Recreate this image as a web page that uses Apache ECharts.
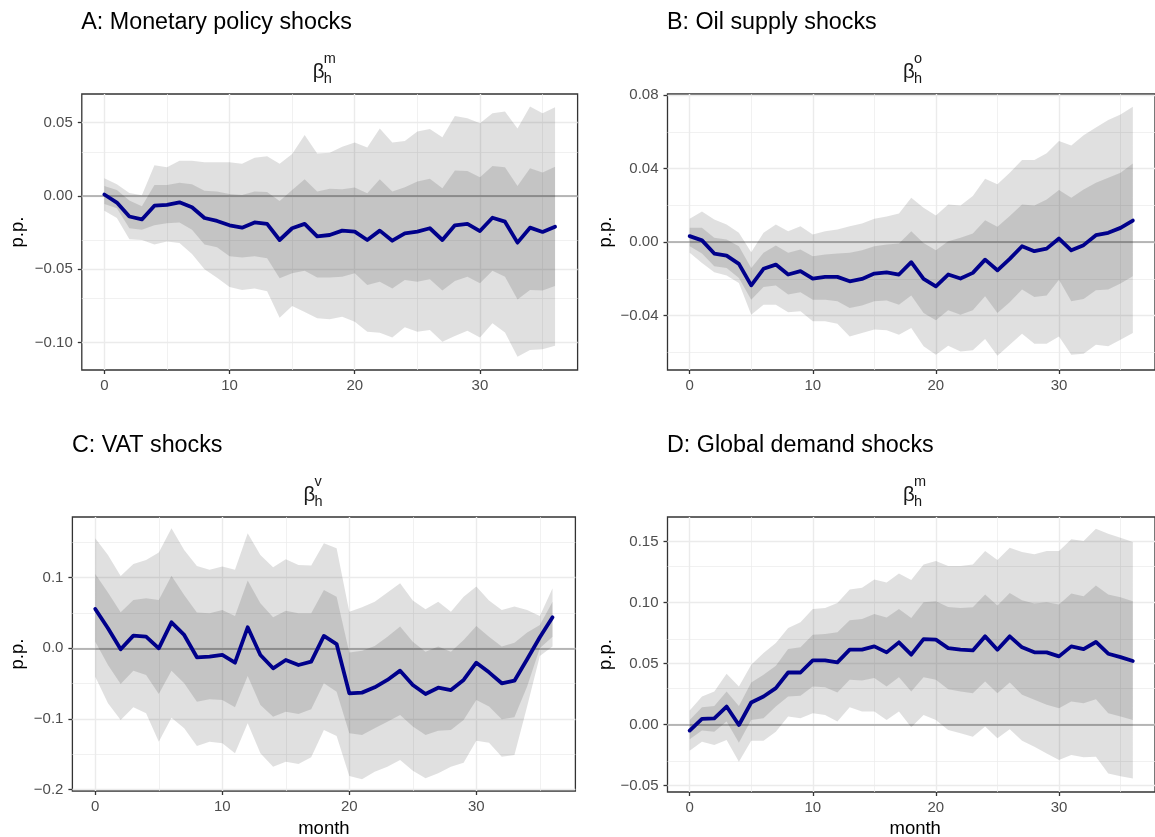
<!DOCTYPE html>
<html><head><meta charset="utf-8">
<script src="https://cdn.jsdelivr.net/npm/echarts@6/dist/echarts.min.js"></script>
<style>html,body{margin:0;padding:0;background:#fff}#c{width:1155px;height:837px}</style>
</head><body><div id="c"></div>
<script>
// ---------- data ----------
const months = [0,1,2,3,4,5,6,7,8,9,10,11,12,13,14,15,16,17,18,19,20,21,22,23,24,25,26,27,28,29,30,31,32,33,34,35,36];
const xTicks = [0,10,20,30];
const xMinor = [5,15,25,35];

// A: Monetary policy shocks
const aMean = [0.001,-0.0045,-0.014,-0.016,-0.0066,-0.006,-0.0043,-0.0077,-0.015,-0.017,-0.020,-0.0216,-0.018,-0.019,-0.030,-0.022,-0.019,-0.0275,-0.0266,-0.0236,-0.0243,-0.030,-0.0236,-0.0305,-0.0255,-0.0243,-0.022,-0.030,-0.020,-0.019,-0.0239,-0.0148,-0.0175,-0.0318,-0.0216,-0.0245,-0.0209];
const aHi95 = [0.012,0.008,0.002,0.0005,0.021,0.0195,0.024,0.024,0.023,0.023,0.023,0.022,0.026,0.027,0.022,0.0286,0.0416,0.029,0.0295,0.0336,0.0364,0.033,0.046,0.0364,0.0375,0.0439,0.0457,0.040,0.0545,0.053,0.0495,0.0564,0.0575,0.046,0.061,0.0564,0.0605];
const aHi68 = [0.0068,0.004,-0.003,-0.007,0.0075,0.0075,0.009,0.008,0.0036,0.003,0.0014,0.0007,0.003,0.0027,-0.0034,0.004,0.0114,0.003,0.005,0.0045,0.0057,0.0018,0.0114,0.003,0.006,0.0098,0.0118,0.0052,0.0173,0.017,0.0127,0.0205,0.0195,0.0068,0.0189,0.016,0.020];
const aLo68 = [-0.0055,-0.0084,-0.022,-0.023,-0.020,-0.0186,-0.018,-0.023,-0.033,-0.035,-0.041,-0.042,-0.041,-0.0425,-0.056,-0.0527,-0.051,-0.0555,-0.0555,-0.055,-0.0527,-0.0607,-0.0584,-0.063,-0.0573,-0.0584,-0.0568,-0.0645,-0.058,-0.055,-0.0595,-0.051,-0.055,-0.0705,-0.064,-0.0645,-0.0614];
const aLo95 = [-0.010,-0.015,-0.0295,-0.030,-0.033,-0.031,-0.032,-0.0395,-0.050,-0.0557,-0.062,-0.064,-0.063,-0.065,-0.083,-0.075,-0.079,-0.0834,-0.084,-0.0823,-0.0857,-0.0925,-0.0932,-0.0964,-0.0895,-0.0925,-0.0914,-0.0993,-0.0955,-0.0918,-0.0964,-0.0868,-0.093,-0.1095,-0.105,-0.1045,-0.102];
const aTicks = [-0.10,-0.05,0.00,0.05];
const aMinor = [-0.075,-0.025,0.025];

// B: Oil supply shocks
const bMean = [0.0033,0.001,-0.0062,-0.0073,-0.0118,-0.0235,-0.0145,-0.0122,-0.0176,-0.0158,-0.0198,-0.0189,-0.0189,-0.0213,-0.020,-0.0171,-0.0164,-0.0176,-0.0109,-0.020,-0.024,-0.0176,-0.0198,-0.0167,-0.0095,-0.0153,-0.0091,-0.0022,-0.0049,-0.0035,0.002,-0.0044,-0.0016,0.0038,0.0051,0.0078,0.0118];
const bHi95 = [0.0127,0.0167,0.0124,0.0096,0.0051,-0.0055,0.0051,0.0096,0.006,0.0087,0.0042,0.006,0.0069,0.0087,0.0102,0.0127,0.014,0.0156,0.0242,0.0187,0.0145,0.0205,0.020,0.0251,0.0345,0.0315,0.0378,0.0447,0.0447,0.0484,0.0551,0.0527,0.0582,0.0624,0.0665,0.0696,0.0738];
const bHi68 = [0.0078,0.0078,0.0024,0.0015,-0.0022,-0.014,-0.0058,-0.0018,-0.0058,-0.004,-0.0076,-0.0067,-0.0062,-0.0058,-0.0044,-0.0022,-0.0013,-0.0007,0.006,-0.0004,-0.0044,0.0005,0.0024,0.0047,0.012,0.0084,0.0142,0.0205,0.020,0.0233,0.0284,0.0242,0.0287,0.0324,0.0351,0.0378,0.0429];
const bLo68 = [-0.0022,-0.0062,-0.0131,-0.014,-0.0195,-0.0313,-0.0244,-0.0236,-0.0285,-0.0273,-0.0313,-0.0313,-0.0322,-0.0358,-0.0345,-0.0322,-0.0318,-0.034,-0.029,-0.0385,-0.0425,-0.0371,-0.0395,-0.0371,-0.0295,-0.0385,-0.0327,-0.0258,-0.0298,-0.029,-0.0204,-0.0322,-0.0309,-0.0262,-0.0258,-0.0225,-0.0185];
const bLo95 = [-0.0058,-0.0113,-0.0164,-0.0182,-0.0222,-0.0395,-0.034,-0.034,-0.0382,-0.0376,-0.0431,-0.0431,-0.0444,-0.0513,-0.0495,-0.0476,-0.048,-0.0504,-0.0467,-0.0567,-0.0613,-0.0564,-0.0595,-0.0589,-0.0527,-0.0618,-0.0558,-0.0498,-0.0553,-0.0553,-0.0513,-0.0613,-0.0607,-0.0558,-0.0567,-0.0531,-0.0495];
const bTicks = [-0.04,0.00,0.04,0.08];
const bMinor = [-0.06,-0.02,0.02,0.06];

// C: VAT shocks
const cMean = [0.0557,0.0283,-0.0014,0.0179,0.0165,0.0,0.0368,0.0189,-0.0127,-0.0118,-0.0094,-0.0203,0.0297,-0.0094,-0.0283,-0.0165,-0.0236,-0.0189,0.0175,0.006,-0.0637,-0.0627,-0.0552,-0.0448,-0.0316,-0.0519,-0.0646,-0.0557,-0.059,-0.0448,-0.0203,-0.034,-0.0495,-0.0458,-0.0156,0.0156,0.0439];
const cHi95 = [0.1557,0.132,0.1024,0.1193,0.125,0.1354,0.1698,0.139,0.1165,0.111,0.1156,0.111,0.1627,0.132,0.1146,0.126,0.118,0.117,0.1486,0.1415,0.0519,0.058,0.066,0.0788,0.092,0.0675,0.0552,0.066,0.0519,0.0731,0.0873,0.0675,0.0542,0.059,0.0542,0.0458,0.0849];
const cHi68 = [0.1052,0.0788,0.0509,0.0684,0.0708,0.0684,0.1028,0.0755,0.0505,0.0495,0.0542,0.0458,0.0958,0.0637,0.0439,0.0533,0.0495,0.0495,0.0825,0.0731,-0.0061,-0.0033,0.0033,0.0165,0.0307,0.0094,-0.0047,0.0024,-0.0047,0.0118,0.0316,0.0165,0.0024,0.008,0.0222,0.033,0.066];
const cLo68 = [0.0094,-0.0236,-0.0505,-0.0316,-0.0377,-0.0646,-0.0316,-0.0495,-0.0755,-0.0722,-0.0731,-0.0835,-0.0392,-0.0802,-0.0967,-0.0896,-0.0929,-0.0863,-0.0495,-0.0613,-0.1203,-0.1226,-0.1132,-0.1038,-0.0943,-0.1108,-0.1226,-0.1165,-0.1156,-0.1014,-0.0731,-0.0825,-0.1005,-0.0976,-0.0542,0.0,0.0165];
const cLo95 = [-0.0401,-0.0778,-0.1014,-0.0835,-0.092,-0.1321,-0.0981,-0.1132,-0.1382,-0.1321,-0.1344,-0.1486,-0.1061,-0.1486,-0.1675,-0.1604,-0.1637,-0.1542,-0.1156,-0.1241,-0.1807,-0.1854,-0.1745,-0.1675,-0.158,-0.1731,-0.184,-0.1769,-0.1675,-0.1618,-0.1307,-0.1335,-0.1533,-0.151,-0.0825,-0.011,0.0024];
const cTicks = [-0.2,-0.1,0.0,0.1];
const cMinor = [-0.15,-0.05,0.05,0.15];

// D: Global demand shocks
const dMean = [-0.0049,0.0047,0.0052,0.0148,-0.0003,0.0181,0.023,0.0299,0.0427,0.0427,0.0526,0.0526,0.051,0.0614,0.0614,0.0641,0.0592,0.0674,0.0573,0.0701,0.0696,0.0627,0.0614,0.0608,0.0723,0.0614,0.0723,0.0633,0.0592,0.0592,0.0559,0.0641,0.0619,0.0677,0.0581,0.0553,0.0521];
const dHi95 = [0.0115,0.023,0.0271,0.0416,0.0312,0.049,0.0586,0.0668,0.0792,0.0838,0.0948,0.0956,0.0997,0.1107,0.1121,0.1189,0.1165,0.1238,0.1184,0.1312,0.134,0.1299,0.1299,0.1312,0.1422,0.1348,0.1449,0.1414,0.1395,0.1422,0.1422,0.1518,0.1504,0.1605,0.1564,0.1532,0.1496];
const dHi68 = [0.0038,0.0142,0.0153,0.0271,0.0153,0.0345,0.0408,0.0482,0.0619,0.0633,0.0737,0.0742,0.0756,0.0855,0.0866,0.0907,0.0878,0.0948,0.0874,0.1003,0.1011,0.0964,0.0956,0.0962,0.1066,0.0975,0.1079,0.1019,0.0992,0.1003,0.0984,0.1074,0.1052,0.114,0.1066,0.1044,0.1011];
const dLo68 = [-0.012,-0.0049,-0.0058,0.0025,-0.0148,0.0038,0.0052,0.0148,0.023,0.0236,0.0312,0.0307,0.0263,0.0367,0.0362,0.0381,0.0312,0.0389,0.0271,0.0389,0.0367,0.029,0.0271,0.0258,0.0353,0.0258,0.0345,0.0244,0.0203,0.0162,0.0134,0.0189,0.0175,0.0208,0.0093,0.0066,0.0038];
const dLo95 = [-0.0214,-0.014,-0.0167,-0.0126,-0.0304,-0.0132,-0.0132,-0.0058,0.0066,0.0052,0.0093,0.0079,0.0025,0.0142,0.0107,0.0107,0.0038,0.0107,-0.0022,0.0079,0.0038,-0.0044,-0.0071,-0.0099,-0.0016,-0.0112,-0.0038,-0.0132,-0.0181,-0.0236,-0.029,-0.0249,-0.0268,-0.0263,-0.04,-0.0422,-0.0441];
const dTicks = [-0.05,0.00,0.05,0.10,0.15];
const dMinor = [-0.025,0.025,0.075,0.125];

// ---------- layout / styles ----------
const FONT = '"Liberation Sans", Arial, Helvetica, sans-serif';
const panels = [
  {title:'A: Monetary policy shocks', sup:'m', mean:aMean, hi95:aHi95, hi68:aHi68, lo68:aLo68, lo95:aLo95, ticks:aTicks, minor:aMinor, dec:2,
   ymin:-0.1186, ymax:0.0695, grid:{left:81.8, top:94, width:495.8, height:276}, bottom:false},
  {title:'B: Oil supply shocks', sup:'o', mean:bMean, hi95:bHi95, hi68:bHi68, lo68:bLo68, lo95:bLo95, ticks:bTicks, minor:bMinor, dec:2,
   ymin:-0.0696, ymax:0.0807, grid:{left:667.5, top:94, width:495.4, height:276}, bottom:false},
  {title:'C: VAT shocks', sup:'v', mean:cMean, hi95:cHi95, hi68:cHi68, lo68:cLo68, lo95:cLo95, ticks:cTicks, minor:cMinor, dec:1,
   ymin:-0.2019, ymax:0.1858, grid:{left:72.4, top:517, width:503, height:274}, bottom:true},
  {title:'D: Global demand shocks', sup:'m', mean:dMean, hi95:dHi95, hi68:dHi68, lo68:dLo68, lo95:dLo95, ticks:dTicks, minor:dMinor, dec:2,
   ymin:-0.0552, ymax:0.1701, grid:{left:667.5, top:517, width:495.4, height:275}, bottom:true}
];
const XMIN = -1.8, XMAX = 37.8;

const grids = [], xAxes = [], yAxes = [], series = [], graphics = [];

function ribbon(i, lo, hi, z) {
  return {
    type:'custom', xAxisIndex:i, yAxisIndex:i, z:z, silent:true, clip:true,
    dimensions:['x','lo','hi'], encode:{x:0, y:[1,2]},
    data: months.map((m,k)=>[m, lo[k], hi[k]]),
    renderItem: function(params, api){
      if (params.dataIndex !== 0) return null;
      const pts = [];
      for (let k=0;k<months.length;k++) pts.push(api.coord([months[k], hi[k]]));
      for (let k=months.length-1;k>=0;k--) pts.push(api.coord([months[k], lo[k]]));
      return {type:'polygon', shape:{points:pts}, style:{fill:'rgba(0,0,0,0.12)'}};
    }
  };
}

function txt(str, x, y, size, color, align, rot) {
  return {type:'text', x:x, y:y, rotation:rot||0, silent:true, z:100,
    style:{text:str, fontSize:size, fontFamily:FONT, fill:color, align:align||'left', verticalAlign:'middle'}};
}

panels.forEach((p, i) => {
  grids.push(Object.assign({show:true, borderColor:'#333333', borderWidth:1.3, backgroundColor:'transparent', containLabel:false}, p.grid));
  xAxes.push({
    type:'value', gridIndex:i, min:XMIN, max:XMAX, position:'bottom',
    axisLine:{show:false, onZero:false}, splitLine:{show:false},
    axisTick:{show:true, length:4, lineStyle:{color:'#333333', width:1.3}, customValues:xTicks},
    axisLabel:{show:true, margin:8, fontSize:15, fontFamily:FONT, color:'#4d4d4d', customValues:xTicks,
      formatter:v=>String(Math.round(v))}
  });
  yAxes.push({
    type:'value', gridIndex:i, min:p.ymin, max:p.ymax, position:'left',
    axisLine:{show:false, onZero:false}, splitLine:{show:false},
    axisTick:{show:true, length:4, lineStyle:{color:'#333333', width:1.3}, customValues:p.ticks},
    axisLabel:{show:true, margin:9, fontSize:15, fontFamily:FONT, color:'#4d4d4d', customValues:p.ticks,
      formatter:v=>(v < -1e-9 ? '\u2212' : '') + Math.abs(v).toFixed(p.dec)}
  });
  const ml = [];
  xMinor.forEach(v=>ml.push({xAxis:v, lineStyle:{color:'#ebebeb', width:0.7, type:'solid'}}));
  p.minor.forEach(v=>ml.push({yAxis:v, lineStyle:{color:'#ebebeb', width:0.7, type:'solid'}}));
  xTicks.forEach(v=>ml.push({xAxis:v, lineStyle:{color:'#ebebeb', width:1.4, type:'solid'}}));
  p.ticks.forEach(v=>ml.push({yAxis:v, lineStyle:{color:'#ebebeb', width:1.4, type:'solid'}}));
  ml.push({yAxis:0, lineStyle:{color:'#a3a3a3', width:1.5, type:'solid'}});
  series.push({
    type:'line', xAxisIndex:i, yAxisIndex:i, z:1, silent:true, showSymbol:false,
    data: months.map((m,k)=>[m, p.mean[k]]), lineStyle:{opacity:0, width:0},
    markLine:{silent:true, z:1, symbol:['none','none'], label:{show:false}, animation:false, emphasis:{disabled:true}, data:ml}
  });
  series.push(ribbon(i, p.lo95, p.hi95, 6));
  series.push(ribbon(i, p.lo68, p.hi68, 7));
  series.push({
    type:'line', xAxisIndex:i, yAxisIndex:i, z:8, silent:true, showSymbol:false,
    data: months.map((m,k)=>[m, p.mean[k]]),
    lineStyle:{color:'#00008B', width:3.8, join:'round', cap:'round'}
  });

  const g = p.grid;
  const dy = g.top - 94;
  // panel title
  graphics.push(txt(p.title, g.left - 0.5, 23 + dy, 23.3, '#000000', 'left'));
  // subtitle beta_h^x
  const cx = g.left + (i % 2 === 0 ? 231 : 235.5);
  graphics.push(txt('\u03B2', cx, 72 + dy, 20.5, '#1a1a1a', 'left'));
  graphics.push(txt(p.sup, cx + 11, 59 + dy, 14.5, '#1a1a1a', 'left'));
  graphics.push(txt('h', cx + 11, 78.5 + dy, 14.5, '#1a1a1a', 'left'));
  // y axis title
  graphics.push(txt('p.p.', (i % 2 === 0 ? 17.5 : 605.5), g.top + g.height/2, 18.5, '#000000', 'center', Math.PI/2));
  if (p.bottom) {
    graphics.push(txt('month', g.left + g.width/2, 828.5, 18.5, '#000000', 'center'));
  }
});

const chart = echarts.init(document.getElementById('c'), null, {renderer:'canvas'});
chart.setOption({
  animation:false,
  backgroundColor:'#ffffff',
  grid:grids, xAxis:xAxes, yAxis:yAxes, series:series, graphic:graphics
});
</script>
</body></html>
